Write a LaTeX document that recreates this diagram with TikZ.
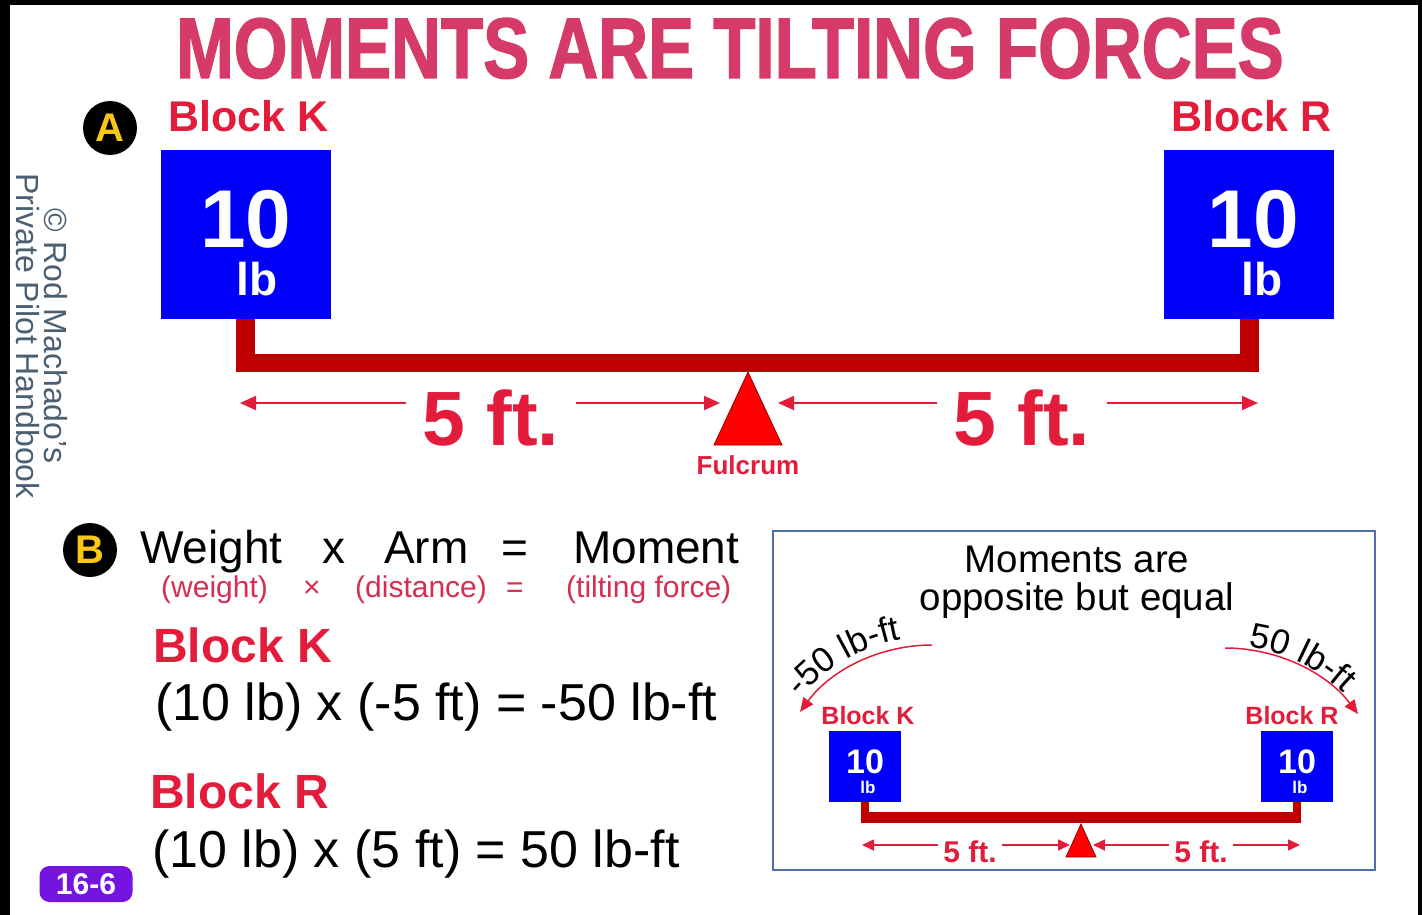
\documentclass[tikz,border=0pt]{standalone}
\usepackage{fontspec}
\setmainfont{Liberation Sans}
\newfontfamily\titlefont{Liberation Sans}[FakeStretch=0.803,FakeBold=1.5]
\usetikzlibrary{arrows.meta,decorations.text}
\newcommand{\fsz}[1]{\fontsize{#1}{#1}\selectfont}
\definecolor{titlepink}{RGB}{214,58,105}
\definecolor{lblred}{RGB}{226,28,58}
\definecolor{subred}{RGB}{215,45,80}
\definecolor{beam}{RGB}{192,0,0}
\definecolor{blockblue}{RGB}{0,0,250}
\definecolor{fulred}{RGB}{255,0,0}
\definecolor{badgepurple}{RGB}{115,20,225}
\definecolor{boxblue}{RGB}{80,110,170}
\definecolor{cgray}{RGB}{75,95,115}
\definecolor{yellowA}{RGB}{250,200,20}
\tikzset{
  txt/.style={inner sep=0pt, anchor=base},
  letterc/.style={circle, fill=black, minimum size=54pt, inner sep=0pt, text=yellowA, font=\bfseries\fsz{40}},
  bigblock/.style={fill=blockblue, minimum width=170pt, minimum height=169pt, inner sep=0pt},
  smallblock/.style={fill=blockblue, minimum width=72pt, minimum height=71pt, inner sep=0pt},
  ftbig/.style={txt, text=lblred, font=\bfseries\fsz{77}, inner xsep=16pt},
  ftsmall/.style={txt, text=lblred, font=\bfseries\fsz{30}, inner xsep=5pt},
  dimA/.style={draw=lblred, line width=2pt, -{Triangle[length=16pt,width=14pt]}},
  dimS/.style={draw=lblred, line width=1.6pt, -{Triangle[length=12pt,width=11pt]}},
  arcA/.style={draw=lblred, line width=1.5pt, -{Triangle[length=14pt,width=12pt]}},
  beamfill/.style={fill=beam},
  fulcrum/.style={fill=fulred, draw=fulred!60!black, line width=0.8pt},
}
\begin{document}
\begin{tikzpicture}[x=1pt,y=-1pt]
\useasboundingbox (0,0) rectangle (1422,915);
\fill[black] (0,0) rectangle (1422,915);
\fill[white] (10,5) rectangle (1418,915);

% title
\node[txt, text=titlepink, font=\titlefont\bfseries\fsz{86}] (title) at (730,78) {MOMENTS ARE TILTING FORCES};

% section A
\node[letterc] (cA) at (110,128) {A};
\node[txt, anchor=base west, text=lblred, font=\bfseries\fsz{43}] (lK) at (168,132) {Block K};
\node[txt, anchor=base east, text=lblred, font=\bfseries\fsz{43}] (lR) at (1332,132) {Block R};

\node[bigblock] (bK) at (246,234.5) {};
\node[bigblock] (bR) at (1249,234.5) {};
\node[txt, text=white, font=\bfseries\fsz{82}] (bK10) at (246,247) {10};
\node[txt, text=white, font=\bfseries\fsz{46}] (bKlb) at (257,295) {lb};
\node[txt, text=white, font=\bfseries\fsz{82}] (bR10) at (1253,247) {10};
\node[txt, text=white, font=\bfseries\fsz{46}] (bRlb) at (1262,295) {lb};

\fill[beamfill] (236,319) rectangle (255,372);
\fill[beamfill] (1240,319) rectangle (1259,372);
\fill[beamfill] (236,354) rectangle (1259,372);

\coordinate (fulA) at (748,372);
\draw[fulcrum] (fulA) -- (714,445) -- (782,445) -- cycle;
\node[txt, text=lblred, font=\bfseries\fsz{26}] (fulc) at (748,474) {Fulcrum};

\node[ftbig] (ftL) at (491,445) {5 ft.};
\node[ftbig] (ftR) at (1022,445) {5 ft.};
\coordinate (a1) at (240,403);
\coordinate (a2) at (720,403);
\coordinate (a3) at (778,403);
\coordinate (a4) at (1258,403);
\draw[dimA] (ftL.west |- a1) -- (a1);
\draw[dimA] (ftL.east |- a2) -- (a2);
\draw[dimA] (ftR.west |- a3) -- (a3);
\draw[dimA] (ftR.east |- a4) -- (a4);

% copyright
\node[rotate=-90, align=center, text=cgray, font=\fontsize{32}{28}\selectfont, inner sep=0pt] (copy) at (42,336) {© Rod Machado's\\Private Pilot Handbook};

% section B
\node[letterc] (cB) at (90,550) {B};
\node[txt, anchor=base west, font=\fsz{46}] (w1) at (140,563) {Weight};
\node[txt, font=\fsz{46}] (w2) at (334,563) {x};
\node[txt, anchor=base west, font=\fsz{46}] (w3) at (384,563) {Arm};
\node[txt, font=\fsz{46}] (w4) at (515,563) {=};
\node[txt, anchor=base west, font=\fsz{46}] (w5) at (573,563) {Moment};

\node[txt, anchor=base west, text=subred, font=\fsz{30}] (s1) at (161,597) {(weight)};
\node[txt, text=subred, font=\fsz{30}] (s2) at (312,597) {×};
\node[txt, anchor=base west, text=subred, font=\fsz{30}] (s3) at (355,597) {(distance)};
\node[txt, text=subred, font=\fsz{30}] (s4) at (515,597) {=};
\node[txt, anchor=base west, text=subred, font=\fsz{30}] (s5) at (566,597) {(tilting force)};

\node[txt, anchor=base west, text=lblred, font=\bfseries\fsz{48}] (bbK) at (153,662) {Block K};
\node[txt, anchor=base west, font=\fsz{52}] (eqK) at (155,720) {(10 lb) x (-5 ft) = -50 lb-ft};
\node[txt, anchor=base west, text=lblred, font=\bfseries\fsz{48}] (bbR) at (150,808) {Block R};
\node[txt, anchor=base west, font=\fsz{52}] (eqR) at (152,867) {(10 lb) x (5 ft) = 50 lb-ft};

\node[fill=badgepurple, rounded corners=10pt, minimum width=93pt, minimum height=36pt, inner sep=0pt, text=white, font=\bfseries\fsz{30}] (pg) at (86,884) {16-6};

% right box
\node[draw=boxblue, line width=1.5pt, minimum width=602pt, minimum height=339pt, inner sep=0pt] (box) at (1074,700.5) {};
\node[txt, font=\fsz{38.5}] (m1) at (1077,572) {Moments are};
\node[txt, font=\fsz{38.5}] (m2) at (1077,610) {opposite but equal};

% moment arcs
\coordinate (lS) at (932,645);
\draw[arcA] (lS) arc[start angle=-90, end angle=-143.8, radius=163.5];
\coordinate (rS) at (1225,648);
\draw[arcA] (rS) arc[start angle=-90, end angle=-37.2, radius=167];
% curved labels
\coordinate (lT) at (770.4,749.7);
\path[decorate, decoration={text along path, text align=center, text={|\fsz{35}|-50 lb-ft}}]
  (lT) arc[start angle=-160, end angle=-80, radius=172];
\coordinate (rT) at (1183.9,650.1);
\path[decorate, decoration={text along path, text align=center, text={|\fsz{35}|50 lb-ft}}]
  (rT) arc[start angle=-104, end angle=-24, radius=170];

\node[txt, text=lblred, font=\bfseries\fsz{25}] (sK) at (868,724) {Block K};
\node[txt, text=lblred, font=\bfseries\fsz{25}] (sR) at (1292,724) {Block R};
\node[smallblock] (sbK) at (865,766.5) {};
\node[smallblock] (sbR) at (1297,766.5) {};
\node[txt, text=white, font=\bfseries\fsz{34}] (sbK10) at (865,773) {10};
\node[txt, text=white, font=\bfseries\fsz{17}] (sbKlb) at (868,793) {lb};
\node[txt, text=white, font=\bfseries\fsz{34}] (sbR10) at (1297,773) {10};
\node[txt, text=white, font=\bfseries\fsz{17}] (sbRlb) at (1300,793) {lb};

\fill[beamfill] (861,802) rectangle (869,823);
\fill[beamfill] (1293,802) rectangle (1301,823);
\fill[beamfill] (861,812) rectangle (1301,823);
\coordinate (sfulA) at (1081,824);
\draw[fulcrum] (sfulA) -- (1066,857) -- (1096,857) -- cycle;

\node[ftsmall] (fsL) at (970,862) {5 ft.};
\node[ftsmall] (fsR) at (1201,862) {5 ft.};
\coordinate (b1) at (862,845);
\coordinate (b2) at (1070,845);
\coordinate (b3) at (1093,845);
\coordinate (b4) at (1300,845);
\draw[dimS] (fsL.west |- b1) -- (b1);
\draw[dimS] (fsL.east |- b2) -- (b2);
\draw[dimS] (fsR.west |- b3) -- (b3);
\draw[dimS] (fsR.east |- b4) -- (b4);
\end{tikzpicture}
\end{document}
